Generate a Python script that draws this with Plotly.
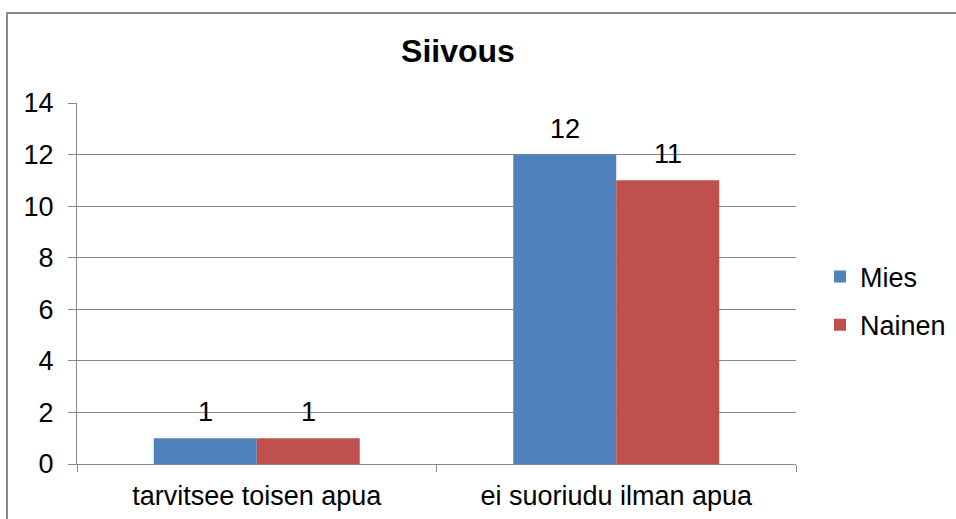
import plotly.graph_objects as go

title = "Siivous"
categories = ["tarvitsee toisen apua", "ei suoriudu ilman apua"]
series_names = ["Mies", "Nainen"]
mies = [1, 12]
nainen = [1, 11]
colors = ["#4F81BD", "#C0504D"]
y_ticks = [0, 2, 4, 6, 8, 10, 12, 14]

FONT = "Liberation Sans, Arial, sans-serif"
FS = 27
L, R, T, B = 77, 160, 103, 55
W, H = 956, 519
pw = W - L - R
ph = H - T - B

fig = go.Figure()
for i, (name, vals) in enumerate(zip(series_names, [mies, nainen])):
    fig.add_trace(go.Bar(
        x=categories, y=vals, name=name,
        marker=dict(color=colors[i], line=dict(width=0)),
        legendgroup=name,
    ))

# data labels
bar_w = pw / len(categories) * (1 - 0.427) / 2
for i, vals in enumerate([mies, nainen]):
    for c, v in zip(categories, vals):
        fig.add_annotation(x=c, y=v, text=str(v), showarrow=False,
                           xshift=(i - 0.5) * bar_w, yshift=9, yanchor="bottom",
                           font=dict(family=FONT, size=FS, color="#000"))

# outer chart border
x0 = (7 - L) / pw
y1 = (H - B - 13) / ph
fig.add_shape(type="rect", xref="paper", yref="paper",
              x0=x0, x1=1.5, y0=-0.5, y1=y1,
              line=dict(color="#8a8a8a", width=2), fillcolor="rgba(0,0,0,0)")

fig.update_layout(
    width=W, height=H,
    margin=dict(l=L, r=R, t=T, b=B, autoexpand=False),
    paper_bgcolor="white", plot_bgcolor="white",
    barmode="group", bargap=0.427, bargroupgap=0,
    font=dict(family=FONT, size=FS, color="#000"),
    title=dict(text="<b>" + title + "</b>", x=(458 - L) / pw, xref="paper", xanchor="center",
               y=1 - 51 / H, yanchor="middle",
               font=dict(family=FONT, size=32, color="#000")),
    legend=dict(x=(820 - L) / pw, xanchor="left", y=(H - B - 301) / ph, yanchor="middle",
                font=dict(family=FONT, size=FS), traceorder="grouped",
                tracegroupgap=10, itemwidth=30, bgcolor="rgba(0,0,0,0)"),
    showlegend=True,
)
fig.update_yaxes(range=[0, 14], tickvals=y_ticks, showgrid=True, gridcolor="#888888",
                 gridwidth=1, showline=True, linecolor="#888888", linewidth=1,
                 ticks="outside", ticklen=8, tickcolor="#888888", zeroline=False,
                 ticklabelstandoff=9, tickfont=dict(family=FONT, size=FS))
fig.update_xaxes(showline=True, linecolor="#888888", linewidth=1, ticks="outside",
                 tickson="boundaries", ticklen=7, tickcolor="#888888",
                 ticklabelstandoff=8, tickfont=dict(family=FONT, size=FS))

fig.write_html("out.html", config={"displayModeBar": False},
               post_script="document.body.style.margin='0';")
